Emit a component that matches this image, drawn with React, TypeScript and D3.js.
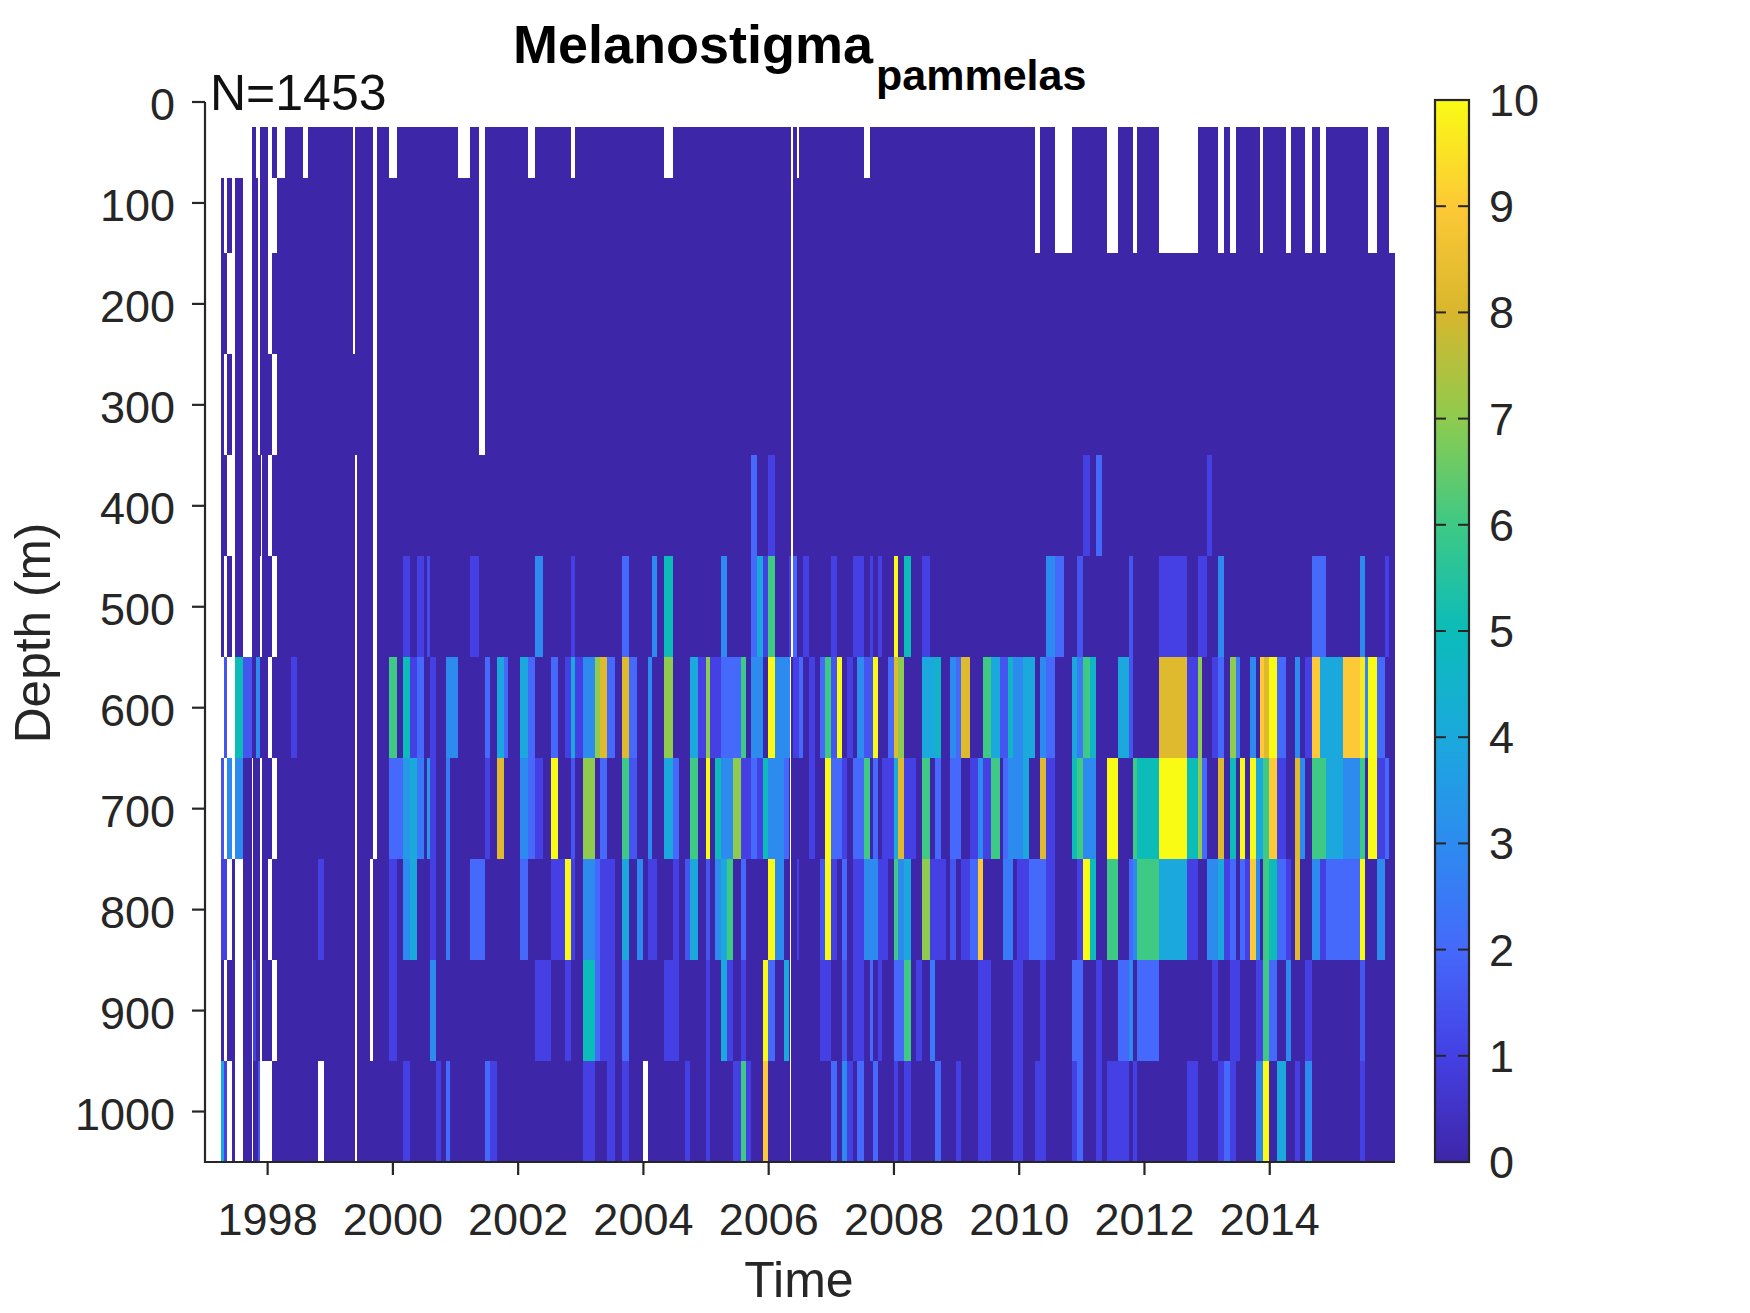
import * as d3 from 'd3'

type Cell = [number, number, number]
type Gap = [number, number]

const WIDTH = 1750
const HEIGHT = 1313
const margin = { left: 205, right: 355, top: 102, bottom: 151 }

const DEPTH_EDGES = [25, 75, 150, 250, 350, 450, 550, 650, 750, 850, 950, 1050]
const ROW_START = [1997.757, 1997.262, 1997.262, 1997.262, 1997.262, 1997.262, 1997.31, 1997.262, 1997.262, 1997.262, 1997.262]
const ROW_END = [2015.91, 2015.91, 2016, 2016, 2016, 2016, 2016, 2016, 2016, 2016, 2016]
const DEPTH_TICKS = [0, 100, 200, 300, 400, 500, 600, 700, 800, 900, 1000]
const YEAR_TICKS = [1998, 2000, 2002, 2004, 2006, 2008, 2010, 2012, 2014]
const COLOR_TICKS = [0, 1, 2, 3, 4, 5, 6, 7, 8, 9, 10]
const COLORS = ['#3e26a8', '#4440e4', '#4569fb', '#2d8bf0', '#1ba9dd', '#0bbcb9', '#3ec985', '#8ecb4e', '#d8b62d', '#fdc936', '#f9fb14']

// years with no tow at that depth (left white)
const gapsLate: Gap[] = [[2010.259, 2010.339], [2010.578, 2010.85], [2011.408, 2011.584], [2011.823, 2011.887], [2012.239, 2012.861], [2013.181, 2013.276], [2013.372, 2013.468], [2013.851, 2013.899], [2014.266, 2014.346], [2014.57, 2014.681], [2014.809, 2014.905], [2015.575, 2015.719]]
const gaps25: Gap[] = [[1997.82, 1997.885], [1998.012, 1998.076], [1998.156, 1998.284], [1998.571, 1998.651], [1999.369, 1999.4], [1999.689, 1999.753], [1999.944, 2000.072], [2001.046, 2001.237], [2001.381, 2001.477], [2002.163, 2002.275], [2002.85, 2002.914], [2004.335, 2004.479], [2006.363, 2006.394], [2006.458, 2006.49], [2007.528, 2007.624], ...gapsLate]
const gaps75: Gap[] = [[1997.31, 1997.358], [1997.438, 1997.486], [1997.613, 1997.757], [1997.853, 1997.885], [1998.012, 1998.156], [1999.369, 1999.4], [1999.689, 1999.753], [2001.381, 2001.477], [2006.363, 2006.394], ...gapsLate]
const gaps150: Gap[] = [[1997.358, 1997.486], [1997.613, 1997.757], [1997.853, 1997.885], [1998.012, 1998.076], [1999.369, 1999.4], [1999.689, 1999.753], [2001.381, 2001.477], [2006.363, 2006.394]]
const gaps250: Gap[] = [[1997.31, 1997.358], [1997.438, 1997.486], [1997.613, 1997.757], [1997.853, 1997.885], [1998.076, 1998.156], [1999.689, 1999.753], [2001.381, 2001.477], [2006.363, 2006.394]]
const gaps350: Gap[] = [[1997.358, 1997.486], [1997.613, 1997.757], [1997.9, 1997.917], [1998.012, 1998.076], [1999.4, 1999.434], [1999.689, 1999.753], [2006.363, 2006.394]]
const gaps450: Gap[] = [[1997.31, 1997.358], [1997.438, 1997.486], [1997.613, 1997.757], [1997.885, 1997.917], [1998.076, 1998.156], [1999.402, 1999.434], [1999.689, 1999.753], [2006.363, 2006.394]]
const gaps550: Gap[] = [[1997.358, 1997.486], [1998.013, 1998.076], [1999.402, 1999.434], [1999.689, 1999.753], [2006.336, 2006.363]]
const gaps650: Gap[] = [[1997.31, 1997.358], [1997.438, 1997.486], [1997.757, 1997.773], [1997.885, 1997.917], [1998.076, 1998.156], [1999.402, 1999.434], [1999.689, 1999.753], [2006.336, 2006.363]]
const gaps750: Gap[] = [[1997.358, 1997.438], [1997.486, 1997.613], [1997.757, 1997.773], [1997.885, 1997.917], [1998.013, 1998.076], [1999.402, 1999.434], [1999.641, 1999.689], [2006.336, 2006.363]]
const gaps850: Gap[] = [[1997.31, 1997.358], [1997.486, 1997.613], [1997.757, 1997.773], [1997.885, 1997.917], [1998.076, 1998.156], [1999.402, 1999.434], [1999.641, 1999.689], [2006.336, 2006.363]]
const gaps950: Gap[] = [[1997.358, 1997.438], [1997.486, 1997.613], [1997.757, 1997.773], [1997.885, 1998.076], [1998.811, 1998.907], [1999.402, 1999.434], [2004.0, 2004.079], [2006.336, 2006.363]]

// catch per tow, everything not listed sits at the bottom of the scale
const cells350: Cell[] = [[2005.724, 2005.82, 2], [2005.995, 2006.107, 1], [2011.025, 2011.137, 1], [2011.233, 2011.329, 2], [2013.005, 2013.085, 1]]
const cells450: Cell[] = [[2000.168, 2000.28, 1], [2000.392, 2000.503, 1], [2000.551, 2000.599, 1.3], [2001.238, 2001.381, 1], [2002.276, 2002.403, 3], [2002.85, 2002.914, 1],
  [2003.664, 2003.776, 2], [2004.143, 2004.223, 3], [2004.335, 2004.479, 5], [2005.245, 2005.341, 3], [2005.724, 2005.82, 2], [2005.82, 2005.915, 4], [2005.915, 2005.995, 1], [2005.995, 2006.107, 6],
  [2006.33, 2006.363, 1], [2006.394, 2006.458, 2], [2006.554, 2006.65, 1], [2007.001, 2007.097, 1], [2007.352, 2007.528, 1], [2007.624, 2007.672, 1], [2007.752, 2007.815, 1], [2008.007, 2008.071, 10], [2008.167, 2008.279, 5], [2008.454, 2008.582, 1],
  [2010.434, 2010.578, 3], [2010.578, 2010.722, 2], [2010.929, 2011.025, 1.5], [2011.76, 2011.823, 1.5], [2012.239, 2012.686, 1], [2012.861, 2013.005, 1], [2013.181, 2013.276, 3], [2014.681, 2014.905, 2], [2015.448, 2015.527, 3], [2015.847, 2015.91, 1]]
const cells550: Cell[] = [[1997.31, 1997.358, 1.5], [1997.486, 1997.613, 5], [1997.613, 1997.757, 1.5], [1997.821, 1997.885, 3], [1998.375, 1998.476, 1],
  [1999.944, 2000.072, 6], [2000.168, 2000.28, 5], [2000.28, 2000.392, 1], [2000.392, 2000.503, 2], [2000.599, 2000.695, 1], [2000.855, 2001.046, 3], [2001.477, 2001.557, 2], [2001.669, 2001.78, 4], [2001.78, 2001.844, 2], [2002.036, 2002.164, 4], [2002.164, 2002.276, 2], [2002.531, 2002.643, 2], [2002.754, 2002.85, 1], [2002.85, 2002.914, 4], [2002.914, 2003.042, 1], [2003.042, 2003.234, 3], [2003.234, 2003.313, 7],
  [2003.313, 2003.425, 8.2], [2003.425, 2003.552, 2], [2003.664, 2003.776, 8.2], [2003.776, 2003.904, 2], [2004.079, 2004.143, 3], [2004.335, 2004.479, 7], [2004.75, 2004.878, 4], [2004.878, 2005.005, 1], [2005.005, 2005.069, 7], [2005.069, 2005.245, 1], [2005.245, 2005.564, 2], [2005.564, 2005.644, 6], [2005.724, 2005.915, 3], [2005.995, 2006.107, 10], [2006.107, 2006.336, 3],
  [2006.394, 2006.49, 1], [2006.49, 2006.554, 2], [2006.65, 2006.746, 1], [2006.825, 2006.905, 2], [2006.905, 2007.001, 6], [2007.001, 2007.097, 1.5], [2007.097, 2007.177, 10], [2007.257, 2007.352, 1], [2007.416, 2007.528, 3], [2007.528, 2007.672, 1.5], [2007.672, 2007.752, 10], [2007.911, 2008.007, 2], [2008.007, 2008.071, 8.2], [2008.071, 2008.167, 7], [2008.454, 2008.662, 4], [2008.662, 2008.757, 4.6], [2008.9, 2008.997, 3], [2008.997, 2009.077, 2], [2009.077, 2009.22, 8.2], [2009.428, 2009.555, 6], [2009.555, 2009.7, 4],
  [2009.7, 2009.828, 1.5], [2009.828, 2009.908, 4.6], [2009.908, 2010.067, 3], [2010.067, 2010.259, 4], [2010.339, 2010.434, 3], [2010.434, 2010.578, 2], [2010.85, 2010.929, 4], [2010.929, 2011.025, 2.5], [2011.025, 2011.137, 6], [2011.137, 2011.233, 4.6], [2011.584, 2011.76, 4], [2011.76, 2011.823, 1.5], [2012.239, 2012.686, 8.2], [2012.686, 2012.861, 1], [2012.861, 2012.925, 7], [2013.085, 2013.181, 1], [2013.181, 2013.276, 2], [2013.372, 2013.468, 7], [2013.468, 2013.532, 2.5], [2013.691, 2013.787, 3], [2013.851, 2013.915, 9], [2013.915, 2013.995, 8.2], [2013.995, 2014.122, 10], [2014.122, 2014.266, 2], [2014.41, 2014.49, 3], [2014.57, 2014.681, 1], [2014.681, 2014.809, 9], [2014.809, 2015.176, 4], [2015.176, 2015.448, 9], [2015.448, 2015.527, 9.6], [2015.527, 2015.575, 3], [2015.575, 2015.719, 10], [2015.719, 2015.847, 2]]
const cells650: Cell[] = [[1997.262, 1997.31, 1.5], [1997.358, 1997.438, 3], [1997.486, 1997.613, 3],
  [1999.944, 2000.168, 2], [2000.168, 2000.28, 3.5], [2000.28, 2000.392, 4], [2000.392, 2000.503, 2.5], [2000.551, 2000.599, 3.5], [2000.599, 2000.695, 1], [2000.855, 2000.919, 2.5], [2001.477, 2001.557, 1], [2001.669, 2001.78, 8.2], [2002.036, 2002.164, 3], [2002.164, 2002.276, 2], [2002.276, 2002.403, 1], [2002.531, 2002.643, 10], [2002.85, 2002.914, 1.5], [2003.042, 2003.234, 7],
  [2003.313, 2003.425, 2], [2003.664, 2003.776, 6], [2003.776, 2003.904, 1.5], [2004.079, 2004.143, 3], [2004.335, 2004.479, 4], [2004.479, 2004.574, 2], [2004.75, 2004.878, 6], [2005.005, 2005.069, 10], [2005.149, 2005.245, 5], [2005.245, 2005.437, 3], [2005.437, 2005.564, 7], [2005.564, 2005.724, 1], [2005.724, 2005.82, 2], [2005.82, 2005.915, 1], [2005.915, 2005.995, 5], [2005.995, 2006.25, 3], [2006.25, 2006.33, 2],
  [2006.65, 2006.746, 1], [2006.905, 2007.001, 10], [2007.001, 2007.177, 2], [2007.177, 2007.257, 1], [2007.352, 2007.528, 2], [2007.528, 2007.624, 6], [2007.672, 2007.752, 2], [2007.815, 2008.007, 1], [2008.007, 2008.071, 4], [2008.071, 2008.167, 8.2], [2008.167, 2008.358, 1], [2008.454, 2008.582, 6], [2008.662, 2008.757, 2], [2008.9, 2009.077, 2], [2009.22, 2009.348, 1], [2009.348, 2009.428, 3], [2009.428, 2009.555, 1], [2009.555, 2009.7, 6],
  [2009.748, 2009.828, 2], [2009.828, 2010.067, 3], [2010.067, 2010.163, 4], [2010.339, 2010.434, 8.2], [2010.434, 2010.578, 1], [2010.85, 2010.929, 5], [2010.929, 2011.025, 6], [2011.025, 2011.233, 3], [2011.408, 2011.584, 10], [2011.823, 2011.887, 6], [2011.887, 2012.239, 5], [2012.239, 2012.686, 10], [2012.686, 2012.861, 5], [2012.861, 2012.925, 7], [2012.925, 2013.005, 2], [2013.181, 2013.276, 8.2], [2013.372, 2013.468, 5], [2013.532, 2013.612, 10], [2013.691, 2013.787, 10], [2013.787, 2013.899, 4], [2013.899, 2013.995, 6], [2013.995, 2014.122, 9], [2014.122, 2014.266, 1], [2014.41, 2014.49, 8.2], [2014.49, 2014.57, 3], [2014.681, 2014.905, 6], [2014.905, 2015.176, 4], [2015.176, 2015.448, 3], [2015.448, 2015.527, 6], [2015.575, 2015.719, 10], [2015.719, 2015.847, 1], [2015.847, 2015.91, 2]]
const cells750: Cell[] = [[1997.262, 1997.358, 1], [1998.811, 1998.907, 1],
  [1999.944, 2000.072, 1], [2000.168, 2000.28, 3], [2000.28, 2000.392, 4], [2000.599, 2000.695, 1], [2000.855, 2000.919, 2.5], [2001.238, 2001.477, 2], [2002.036, 2002.164, 2], [2002.531, 2002.754, 1], [2002.754, 2002.85, 10], [2002.85, 2002.914, 1], [2003.042, 2003.234, 3], [2003.234, 2003.313, 2],
  [2003.313, 2003.552, 1], [2003.664, 2003.776, 4], [2003.904, 2004.0, 3], [2004.079, 2004.223, 1], [2004.479, 2004.574, 1], [2004.67, 2004.75, 1.5], [2004.75, 2004.878, 4], [2005.005, 2005.069, 1.5], [2005.149, 2005.245, 3], [2005.245, 2005.341, 4], [2005.341, 2005.437, 6], [2005.564, 2005.644, 2], [2005.995, 2006.107, 10], [2006.107, 2006.25, 3],
  [2006.458, 2006.49, 1], [2006.825, 2006.905, 1.5], [2006.905, 2007.001, 10], [2007.001, 2007.097, 1], [2007.177, 2007.257, 2], [2007.352, 2007.528, 1], [2007.528, 2007.752, 3], [2007.752, 2007.911, 1], [2008.007, 2008.071, 6], [2008.071, 2008.167, 3], [2008.167, 2008.279, 4], [2008.454, 2008.582, 7], [2008.582, 2008.837, 1], [2008.9, 2008.997, 1.5], [2009.077, 2009.22, 1], [2009.22, 2009.348, 2], [2009.348, 2009.428, 9],
  [2009.748, 2009.908, 2.5], [2009.971, 2010.163, 1], [2010.163, 2010.434, 2], [2010.434, 2010.578, 1], [2010.929, 2011.025, 1], [2011.025, 2011.137, 10], [2011.137, 2011.233, 5], [2011.408, 2011.584, 6], [2011.76, 2011.823, 2], [2011.823, 2011.887, 3], [2011.887, 2012.239, 6], [2012.239, 2012.686, 4], [2012.686, 2012.861, 1], [2013.005, 2013.181, 3], [2013.181, 2013.276, 4], [2013.276, 2013.372, 1], [2013.372, 2013.468, 2], [2013.532, 2013.612, 2], [2013.612, 2013.691, 1], [2013.691, 2013.787, 9], [2013.787, 2013.851, 3], [2013.899, 2013.995, 6], [2013.995, 2014.122, 5], [2014.122, 2014.266, 2], [2014.266, 2014.346, 1], [2014.41, 2014.49, 8.2], [2014.681, 2014.809, 3], [2014.809, 2014.905, 1], [2014.905, 2015.448, 2], [2015.448, 2015.527, 10], [2015.719, 2015.847, 3]]
const cells850: Cell[] = [[1997.773, 1997.821, 1], [1999.944, 2000.072, 1], [2000.599, 2000.695, 3], [2002.276, 2002.531, 1], [2002.754, 2002.85, 1], [2003.042, 2003.234, 5], [2003.234, 2003.313, 2],
  [2003.313, 2003.552, 1], [2003.664, 2003.776, 2], [2004.335, 2004.574, 1], [2005.005, 2005.069, 1], [2005.245, 2005.341, 4], [2005.341, 2005.437, 1], [2005.564, 2005.644, 1], [2005.915, 2005.995, 10], [2005.995, 2006.107, 2], [2006.25, 2006.33, 4],
  [2006.825, 2007.001, 1], [2007.177, 2007.257, 1.5], [2007.352, 2007.528, 1], [2007.624, 2007.672, 2], [2007.752, 2007.815, 1], [2008.007, 2008.167, 2], [2008.167, 2008.279, 6], [2008.358, 2008.454, 1], [2008.582, 2008.662, 2.5], [2009.348, 2009.555, 1],
  [2009.908, 2010.067, 1], [2010.339, 2010.434, 1], [2010.85, 2011.025, 2], [2011.233, 2011.329, 1], [2011.584, 2011.76, 2], [2011.76, 2011.823, 3], [2011.887, 2012.239, 2], [2013.085, 2013.181, 1], [2013.372, 2013.532, 1], [2013.787, 2013.899, 1], [2013.899, 2013.995, 6], [2013.995, 2014.122, 2], [2014.266, 2014.346, 3], [2014.57, 2014.681, 1], [2015.448, 2015.527, 1.5]]
const cells950: Cell[] = [[1997.262, 1997.31, 4], [1997.31, 1997.358, 1], [1997.853, 1997.885, 1.5],
  [2000.168, 2000.28, 1], [2000.695, 2000.775, 1], [2000.855, 2000.919, 2], [2001.477, 2001.557, 2], [2001.557, 2001.669, 1], [2003.042, 2003.234, 1],
  [2003.425, 2003.552, 1], [2003.664, 2003.776, 1], [2004.67, 2004.75, 1], [2005.005, 2005.069, 1], [2005.437, 2005.564, 1], [2005.564, 2005.644, 6], [2005.644, 2005.724, 1], [2005.915, 2005.995, 9],
  [2007.001, 2007.097, 2], [2007.177, 2007.257, 3], [2007.257, 2007.352, 1], [2007.416, 2007.528, 2], [2007.672, 2007.752, 2], [2008.007, 2008.071, 1], [2008.167, 2008.279, 1], [2008.662, 2008.757, 2], [2008.997, 2009.077, 1], [2009.348, 2009.555, 1],
  [2009.908, 2010.067, 1], [2010.259, 2010.434, 1], [2010.85, 2010.929, 1], [2010.929, 2011.025, 2], [2011.233, 2011.329, 1], [2011.408, 2011.76, 1], [2011.823, 2011.887, 1], [2012.686, 2012.861, 1], [2013.181, 2013.276, 1], [2013.276, 2013.372, 2], [2013.372, 2013.468, 1], [2013.787, 2013.899, 3], [2013.899, 2013.995, 10], [2014.122, 2014.266, 4], [2014.41, 2014.49, 1], [2014.57, 2014.681, 3], [2015.448, 2015.527, 1]]

const ROW_GAPS = [gaps25, gaps75, gaps150, gaps250, gaps350, gaps450, gaps550, gaps650, gaps750, gaps850, gaps950]
const ROW_CELLS: Cell[][] = [[], [], [], [], cells350, cells450, cells550, cells650, cells750, cells850, cells950]

const FONT = '"Liberation Sans", Arial, sans-serif'
const INK = '#262626'

export default function App() {
  const x = d3.scaleLinear().domain([1997, 2016]).range([margin.left, WIDTH - margin.right])
  const y = d3.scaleLinear().domain([0, 1050]).range([margin.top, HEIGHT - margin.bottom])
  const color = d3.scaleLinear<string>().domain(COLOR_TICKS).range(COLORS)
  const cbar = d3.scaleLinear().domain([0, 10]).range([1162, 100])
  const cbarLeft = 1435
  const cbarRight = 1469

  const bar = (from: number, to: number, row: number, fill: string, key: string) => (
    <rect
      key={key}
      x={x(from)}
      y={y(DEPTH_EDGES[row])}
      width={x(to) - x(from)}
      height={y(DEPTH_EDGES[row + 1]) - y(DEPTH_EDGES[row])}
      fill={fill}
      shapeRendering="crispEdges"
    />
  )

  return (
    <svg
      width={WIDTH}
      height={HEIGHT}
      style={{ position: 'absolute', left: 0, top: 0, background: '#fff' }}
      fontFamily={FONT}
    >
      <defs>
        <linearGradient id="parula" x1="0" x2="0" y1="1" y2="0">
          {COLOR_TICKS.map((v) => (
            <stop key={v} offset={v / 10} stopColor={color(v)} />
          ))}
        </linearGradient>
      </defs>

      {ROW_START.map((start, r) => bar(start, ROW_END[r], r, color(0), `base-${r}`))}
      {ROW_CELLS.map((cells, r) => cells.map((c, i) => bar(c[0], c[1], r, color(c[2]), `cell-${r}-${i}`)))}
      {ROW_GAPS.map((gaps, r) => gaps.map((g, i) => bar(g[0], g[1], r, '#fff', `gap-${r}-${i}`)))}

      {/* axes */}
      <g stroke={INK} strokeWidth={2.2} fill="none">
        <line x1={margin.left} x2={margin.left} y1={y(0)} y2={y(1050) + 1} />
        <line x1={margin.left} x2={x(2016)} y1={y(1050)} y2={y(1050)} />
        {DEPTH_TICKS.map((d) => (
          <line key={d} x1={margin.left - 13} x2={margin.left} y1={y(d)} y2={y(d)} />
        ))}
        {YEAR_TICKS.map((t) => (
          <line key={t} x1={x(t)} x2={x(t)} y1={y(1050)} y2={y(1050) + 13} />
        ))}
      </g>
      <g fontSize={45} fill={INK}>
        {DEPTH_TICKS.map((d) => (
          <text key={d} x={175} y={y(d) + 18} textAnchor="end">
            {d}
          </text>
        ))}
        {YEAR_TICKS.map((t) => (
          <text key={t} x={x(t)} y={1235} textAnchor="middle">
            {t}
          </text>
        ))}
      </g>
      <text x={799} y={1297} textAnchor="middle" fontSize={50} fill={INK}>
        Time
      </text>
      <text
        transform="translate(50,633) rotate(-90)"
        textAnchor="middle"
        fontSize={49.6}
        fill={INK}
      >
        Depth (m)
      </text>

      <text x={513} y={63} fontSize={54} fontWeight="bold" fill="#000">
        Melanostigma
      </text>
      <text x={876} y={90} fontSize={43} fontWeight="bold" fill="#000">
        pammelas
      </text>
      <text x={210} y={110} fontSize={50} fill="#111">
        N=1453
      </text>

      {/* colorbar */}
      <rect x={cbarLeft} y={cbar(10)} width={cbarRight - cbarLeft} height={cbar(0) - cbar(10)} fill="url(#parula)" stroke={INK} strokeWidth={2.2} />
      <g stroke={INK} strokeWidth={2}>
        {COLOR_TICKS.slice(1, -1).map((v) => (
          <g key={v}>
            <line x1={cbarLeft} x2={cbarLeft + 11} y1={cbar(v)} y2={cbar(v)} />
            <line x1={cbarRight - 11} x2={cbarRight} y1={cbar(v)} y2={cbar(v)} />
          </g>
        ))}
      </g>
      <g fontSize={45} fill={INK}>
        {COLOR_TICKS.map((v) => (
          <text key={v} x={1489} y={cbar(v) + 16}>
            {v}
          </text>
        ))}
      </g>
    </svg>
  )
}
